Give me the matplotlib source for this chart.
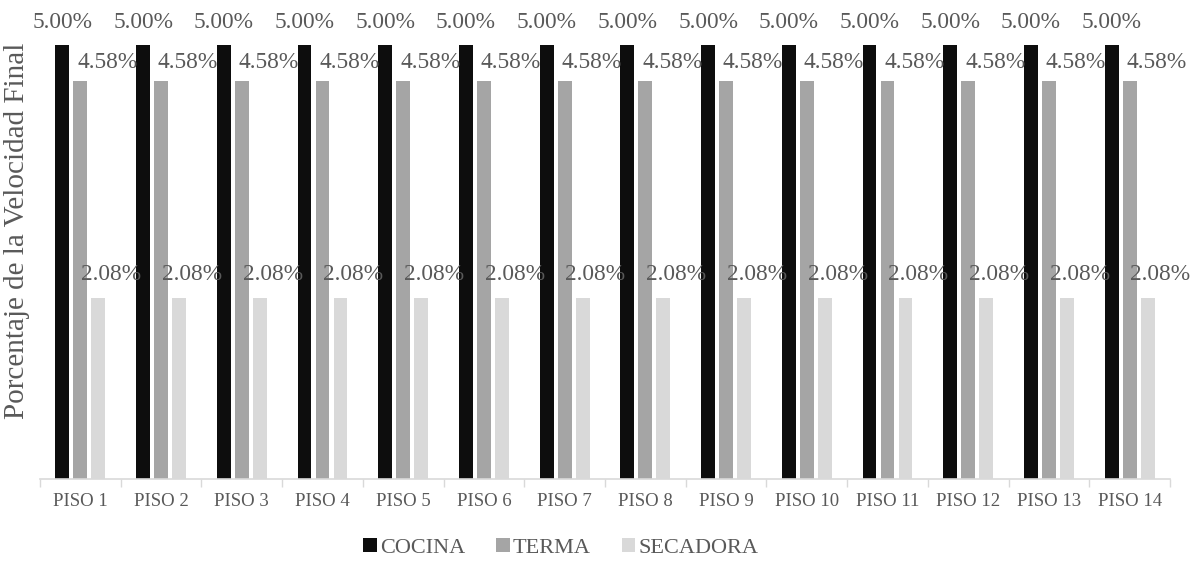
import numpy as np
import matplotlib.pyplot as plt

plt.rcParams['font.family'] = ['Liberation Serif', 'DejaVu Serif']

pisos = ["PISO %d" % i for i in range(1, 15)]
cocina = [5.00] * 14
terma = [4.58] * 14
secadora = [2.08] * 14
series = ["COCINA", "TERMA", "SECADORA"]
colors = ["#0d0d0d", "#a5a5a5", "#d9d9d9"]
txt = "#595959"

fig = plt.figure(figsize=(11.97, 5.62), dpi=100)
ax = fig.add_axes([40/1197, 1 - 478.7/562, 1130/1197, (478.7 - 45)/562])

x = np.arange(len(pisos))
w = 0.173
step = 0.223
# label offsets (data units in x, points in y) to mimic the Excel placement
lab_dx = [0.0, 0.335, 0.16]
lab_dy = [16.5, 13.7, 17.0]
for k, (vals, c) in enumerate(zip([cocina, terma, secadora], colors)):
    xs = x + (k - 1) * step
    ax.bar(xs, vals, width=w, color=c, label=series[k])
    for xi, v in zip(xs, vals):
        ax.annotate("%.2f%%" % v, (xi + lab_dx[k], v), xytext=(0, lab_dy[k]),
                    textcoords="offset points", ha="center", va="center",
                    fontsize=16.8, color=txt, annotation_clip=False)

ax.set_xlim(-0.5, len(pisos) - 0.5)
ax.set_ylim(0, 5.0)
ax.set_xticks(x)
ax.set_xticklabels(pisos, fontsize=13.5, color=txt)
ax.set_xticks(np.arange(-0.5, len(pisos)), minor=True)
ax.tick_params(axis="x", which="major", length=0, pad=10)
ax.tick_params(axis="x", which="minor", length=6, color="#d9d9d9", width=1)
ax.set_yticks([])
for s in ["top", "right", "left"]:
    ax.spines[s].set_visible(False)
ax.spines["bottom"].set_color("#d9d9d9")
ax.spines["bottom"].set_linewidth(1.2)

fig.text(17/1197, 1 - 231/562, "Porcentaje de la Velocidad Final", rotation=90,
         ha="center", va="center", fontsize=21, color=txt)

fig.legend(loc="center", bbox_to_anchor=(561/1197, 1 - 548/562), ncol=3, frameon=False,
           fontsize=16, labelcolor=txt, handlelength=0.6, handleheight=0.6,
           handletextpad=0.15, columnspacing=1.4)

fig.savefig("out.png", dpi=100)
